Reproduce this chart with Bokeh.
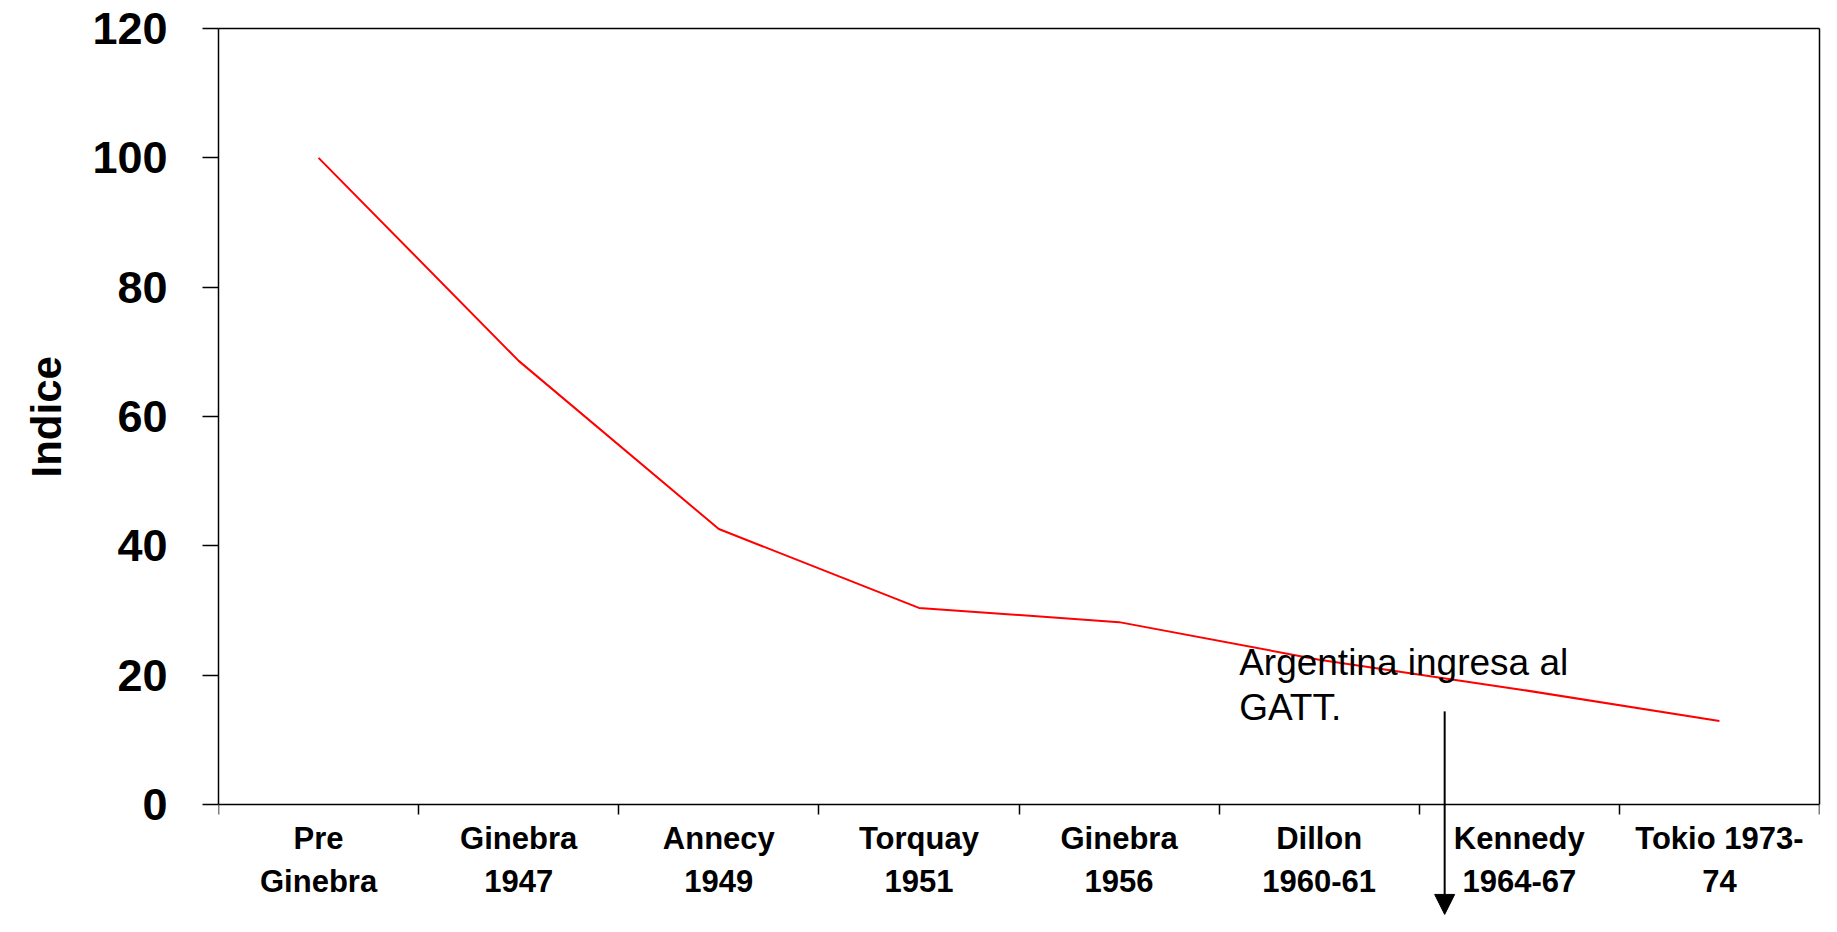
from bokeh.plotting import figure
from bokeh.models import Range1d, FixedTicker, Label, Arrow, NormalHead, LinearAxis, Title
from bokeh.embed import file_html
from bokeh.resources import INLINE

# ---- data ----
categories = ["Pre\nGinebra", "Ginebra\n1947", "Annecy\n1949", "Torquay\n1951",
              "Ginebra\n1956", "Dillon\n1960-61", "Kennedy\n1964-67", "Tokio 1973-\n74"]
indice = [100.0, 68.6, 42.6, 30.4, 28.2, 22.4, 17.8, 12.9]
y_ticks = [0, 20, 40, 60, 80, 100, 120]
annotation_text = "Argentina ingresa al\nGATT."
y_label = "Indice"

FONT = "Liberation Sans"

n = len(categories)
centers = [i + 0.5 for i in range(n)]
bounds = list(range(n + 1))

W, H = 1821, 916
TOP = 28
LEFT = 217
AXIS_PX = 776          # pixels from 0 to 120
frame_h = H - TOP
y_bottom = -120.0 * (frame_h - AXIS_PX) / AXIS_PX   # room below the x axis for labels/arrow

p = figure(width=W, height=H, output_backend="svg", toolbar_location=None,
           x_range=Range1d(0, n), y_range=Range1d(y_bottom, 120),
           min_border_left=LEFT, min_border_right=2, min_border_top=TOP,
           min_border_bottom=0)

p.xgrid.visible = False
p.ygrid.visible = False
p.outline_line_color = None
p.background_fill_color = "white"
p.border_fill_color = "white"

# x axis drawn at y = 0: labels at category centers, tick marks between categories
xa = p.xaxis[0]
xa.fixed_location = 0
xa.ticker = FixedTicker(ticks=centers, minor_ticks=bounds)
xa.major_label_overrides = {c: lab for c, lab in zip(centers, categories)}
xa.major_tick_line_color = None
xa.major_tick_out = 10
xa.major_tick_in = 0
xa.minor_tick_out = 10
xa.minor_tick_in = 0
xa.minor_tick_line_color = "black"
xa.minor_tick_line_width = 1.5
xa.axis_line_color = "black"
xa.axis_line_width = 1.5
xa.major_label_standoff = 6
xa.major_label_text_font = FONT
xa.major_label_text_font_style = "bold"
xa.major_label_text_font_size = "31px"
xa.major_label_text_line_height = 1.25
xa.major_label_text_color = "black"

# y axis (only from 0 to 120)
ya = p.yaxis[0]
ya.bounds = (0, 120)
ya.ticker = FixedTicker(ticks=y_ticks, minor_ticks=[])
ya.major_tick_out = 16
ya.major_tick_in = 0
ya.major_tick_line_color = "black"
ya.major_tick_line_width = 1.5
ya.axis_line_color = "black"
ya.axis_line_width = 1.5
ya.major_label_standoff = 35
ya.major_label_text_font = FONT
ya.major_label_text_font_style = "bold"
ya.major_label_text_font_size = "45px"
ya.major_label_text_color = "black"

# y axis title in the left panel; its start is placed so it sits on the middle of 0-120
y_title = Title(text=y_label, align="left", offset=439, standoff=40,
                text_font=FONT, text_font_style="bold", text_font_size="42px",
                text_color="black")
p.add_layout(y_title, "left")

# plot-area border: top and right
top_axis = LinearAxis(ticker=FixedTicker(ticks=[], minor_ticks=[]),
                      axis_line_color="black", axis_line_width=1.5,
                      major_tick_line_color=None, minor_tick_line_color=None)
right_axis = LinearAxis(ticker=FixedTicker(ticks=[], minor_ticks=[]), bounds=(0, 120),
                        axis_line_color="black", axis_line_width=1.5,
                        major_tick_line_color=None, minor_tick_line_color=None)
p.add_layout(top_axis, "above")
p.add_layout(right_axis, "right")

# series
p.line(centers, indice, line_color="#ff0000", line_width=2)

# annotation text
p.add_layout(Label(x=5.10, y=25.2, text=annotation_text, text_font=FONT,
                   text_font_size="37px", text_color="black",
                   text_baseline="top", text_align="left",
                   text_line_height=1.1))

# arrow running down past the axis
p.add_layout(Arrow(x_start=6.127, y_start=14.4, x_end=6.127, y_end=-17.0,
                   line_color="black", line_width=2,
                   end=NormalHead(size=20, fill_color="black", line_color="black")))

open("out.html", "w").write(file_html(p, INLINE))
